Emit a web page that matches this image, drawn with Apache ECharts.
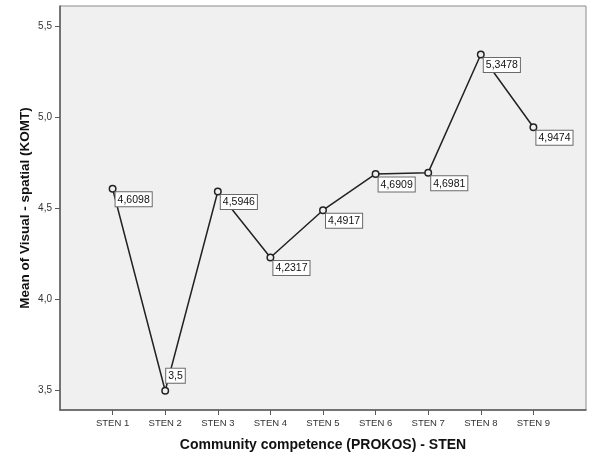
<!DOCTYPE html>
<html>
<head>
<meta charset="utf-8">
<script src="https://cdn.jsdelivr.net/npm/echarts@6/dist/echarts.min.js"></script>
<style>
  html, body { margin: 0; padding: 0; background: #ffffff; }
  #chart { width: 592px; height: 457px; }
</style>
</head>
<body>
<div id="chart"></div>
<script>
// Mean visual-spatial score per community competence STEN level
const categories = ['STEN 1', 'STEN 2', 'STEN 3', 'STEN 4', 'STEN 5', 'STEN 6', 'STEN 7', 'STEN 8', 'STEN 9'];
const means = [4.6098, 3.5, 4.5946, 4.2317, 4.4917, 4.6909, 4.6981, 5.3478, 4.9474];
const yTicks = [3.5, 4.0, 4.5, 5.0, 5.5];
const labelAbove = ['STEN 2'];

const fmtComma = (v, digits) => (digits == null ? String(v) : v.toFixed(digits)).replace('.', ',');

// pad the category axis with an empty slot on each side
const xData = [''].concat(categories, ['']);
const seriesData = [null].concat(means.map((v, i) => {
  const item = { value: v };
  if (labelAbove.indexOf(categories[i]) >= 0) {
    item.label = { position: [5, -18] };
  }
  return item;
}), [null]);

const realSlot = (idx) => idx > 0 && idx < xData.length - 1;

const chart = echarts.init(document.getElementById('chart'), null, { renderer: 'canvas' });
chart.setOption({
  animation: false,
  backgroundColor: '#ffffff',
  grid: {
    left: 60, top: 6, right: 6, bottom: 46,
    show: true,
    backgroundColor: '#f0f0f0',
    borderColor: '#8c8c8c',
    borderWidth: 1
  },
  xAxis: {
    type: 'category',
    data: xData,
    boundaryGap: false,
    name: 'Community competence (PROKOS) - STEN',
    nameLocation: 'middle',
    nameGap: 28,
    nameTextStyle: { fontFamily: 'Liberation Sans, Arial, sans-serif', fontWeight: 'bold', fontSize: 14, color: '#111' },
    axisLine: { lineStyle: { color: '#5a5a5a', width: 1.5 } },
    axisTick: { show: true, length: 5, interval: (idx) => realSlot(idx), lineStyle: { color: '#5a5a5a', width: 1 } },
    axisLabel: {
      interval: (idx) => realSlot(idx),
      margin: 8,
      fontFamily: 'Liberation Sans, Arial, sans-serif',
      fontSize: 9.5,
      color: '#333'
    },
    splitLine: { show: false }
  },
  yAxis: {
    type: 'value',
    min: 3.394,
    max: 5.614,
    name: 'Mean of Visual - spatial (KOMT)',
    nameLocation: 'middle',
    nameGap: 28,
    nameMoveOverlap: false,
    nameTextStyle: { fontFamily: 'Liberation Sans, Arial, sans-serif', fontWeight: 'bold', fontSize: 13.5, color: '#111' },
    axisLine: { show: true, lineStyle: { color: '#5a5a5a', width: 1.5 } },
    axisTick: { show: true, length: 5, customValues: yTicks, lineStyle: { color: '#5a5a5a', width: 1 } },
    axisLabel: {
      customValues: yTicks,
      formatter: (v) => fmtComma(v, 1),
      margin: 8,
      fontFamily: 'Liberation Sans, Arial, sans-serif',
      fontSize: 10,
      color: '#333'
    },
    splitLine: { show: false }
  },
  series: [{
    type: 'line',
    data: seriesData,
    connectNulls: false,
    symbol: 'circle',
    symbolSize: 6.5,
    lineStyle: { color: '#222222', width: 1.5 },
    itemStyle: { color: '#f0f0f0', borderColor: '#222222', borderWidth: 1.5 },
    label: {
      show: true,
      position: [7, 7.5],
      align: 'left',
      verticalAlign: 'top',
      formatter: (p) => fmtComma(p.value),
      fontFamily: 'Liberation Sans, Arial, sans-serif',
      fontSize: 10.5,
      color: '#111',
      backgroundColor: '#ffffff',
      borderColor: '#6a6a6a',
      borderWidth: 1,
      padding: [2, 2, 1, 2]
    },
    emphasis: { disabled: true }
  }]
});
</script>
</body>
</html>
